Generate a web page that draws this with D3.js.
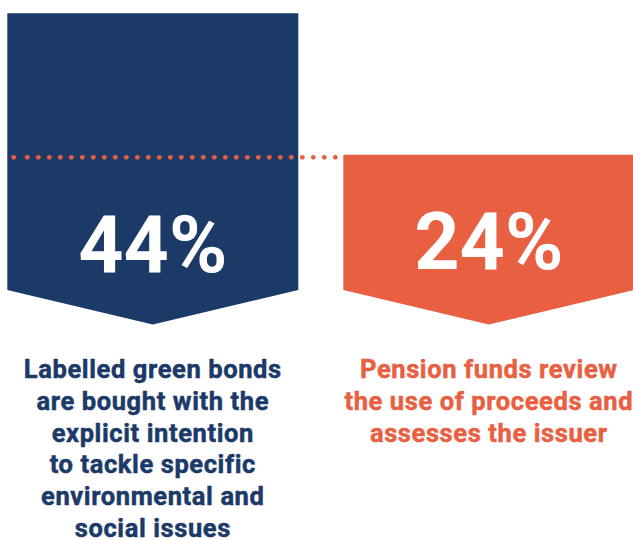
<!DOCTYPE html>
<html>
<head>
<meta charset="utf-8">
<script src="https://cdn.jsdelivr.net/npm/d3@7"></script>
<style>
html,body{margin:0;padding:0;background:#fff;}
svg{display:block;}
text{font-family:Roboto,"Noto Sans",sans-serif;font-weight:700;}
</style>
</head>
<body>
<svg id="chart" width="633" height="540"></svg>
<script>
const categories = ["green_bonds", "pension_funds"];
const values = [44, 24];
const valueLabels = ["44%", "24%"];
const descriptions = [
  ["Labelled green bonds", "are bought with the", "explicit intention", "to tackle specific", "environmental and", "social issues"],
  ["Pension funds review", "the use of proceeds and", "assesses the issuer"]
];
const colors = ["#1c3a68", "#e95f42"];
const referenceValue = 24;

const svg = d3.select("#chart");

const x = d3.scaleBand().domain(categories).range([7.3, 634.3]).paddingInner(0.134).paddingOuter(0);
const y = d3.scaleLinear().domain([0, 44]).range([324.5, 13.3]);
const rectBottom = 290;

const data = categories.map((c, i) => ({c, v: values[i], label: valueLabels[i], desc: descriptions[i], color: colors[i]}));

svg.selectAll("path.bar").data(data).join("path")
  .attr("class", "bar")
  .attr("fill", d => d.color)
  .attr("d", d => {
    const x0 = x(d.c), x1 = x0 + x.bandwidth(), xm = x0 + x.bandwidth() / 2;
    return `M${x0},${y(d.v)}L${x1},${y(d.v)}L${x1},${rectBottom}L${xm},${y(0)}L${x0},${rectBottom}Z`;
  });

// dotted reference line
const dotY = y(referenceValue) + 2.6;
const dotXs = [13.7].concat(d3.range(27.3, 336, 11));
svg.selectAll("circle.dot").data(dotXs).join("circle")
  .attr("class", "dot")
  .attr("cx", d => d).attr("cy", dotY).attr("r", 2.4)
  .attr("fill", colors[1]);

const numBaselines = [271.5, 269];
svg.selectAll("text.num").data(data).join("text")
  .attr("class", "num")
  .attr("x", d => x(d.c) + x.bandwidth() / 2)
  .attr("y", (d, i) => numBaselines[i])
  .attr("text-anchor", "middle")
  .attr("fill", "#fff")
  .attr("font-size", 79)
  .text(d => d.label);

const descG = svg.selectAll("text.desc").data(data).join("text")
  .attr("class", "desc")
  .attr("text-anchor", "middle")
  .attr("fill", d => d.color)
  .attr("stroke", d => d.color)
  .attr("stroke-width", 0.5)
  .attr("letter-spacing", 0.6)
  .attr("font-size", 25.5);
descG.selectAll("tspan").data(d => d.desc.map(t => ({t, cx: x(d.c) + x.bandwidth() / 2}))).join("tspan")
  .attr("x", d => d.cx)
  .attr("y", (d, i) => 378 + i * 31.8)
  .text(d => d.t);
</script>
</body>
</html>
